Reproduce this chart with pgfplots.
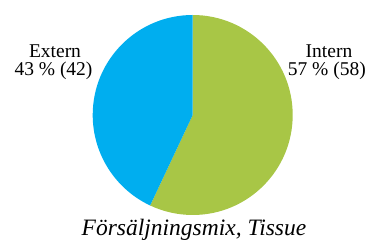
\documentclass[border=0pt]{standalone}
\usepackage{pgfplots}
\usepackage{pgfplotstable}
\pgfplotsset{compat=1.18}
\usepackage{fontspec}
\setmainfont{Liberation Serif}
\definecolor{pgreen}{RGB}{168,198,70}
\definecolor{pblue}{RGB}{0,174,239}
\pgfplotstableread{
label value share
Intern 58 57
Extern 42 43
}\piedata
\begin{document}
\begin{tikzpicture}[x=1bp,y=1bp]
\useasboundingbox (0,0) rectangle (366,240);
\pgfplotstablegetelem{0}{share}\of\piedata
\pgfmathsetmacro{\angA}{90-3.6*\pgfplotsretval}
\pgfmathsetmacro{\angB}{\angA+360}
\begin{axis}[hide axis, x=100bp, y=100bp, xmin=-1, xmax=1, ymin=-1, ymax=1,
  at={(192.7bp,125bp)}, anchor=center, clip=false]
\fill[pgreen] (axis cs:0,0) -- (axis cs:0,1) arc[start angle=90, end angle=\angA, radius=100bp] -- cycle;
\fill[pblue] (axis cs:0,0) -- (axis cs:0,1) arc[start angle=90, end angle=\angB, radius=100bp] -- cycle;
\end{axis}
\begin{scope}[every node/.style={font=\fontsize{19.5bp}{22bp}\selectfont, text=black, inner sep=0pt}]
\node[anchor=base] at (55,183) {Extern};
\node[anchor=base] at (53.5,165) {43 \% (42)};
\node[anchor=base] at (329,183) {Intern};
\node[anchor=base] at (326.8,165) {57 \% (58)};
\node[anchor=base, font=\fontsize{23.5bp}{27bp}\selectfont\itshape] at (194,5) {Försäljningsmix, Tissue};
\end{scope}
\end{tikzpicture}
\end{document}
